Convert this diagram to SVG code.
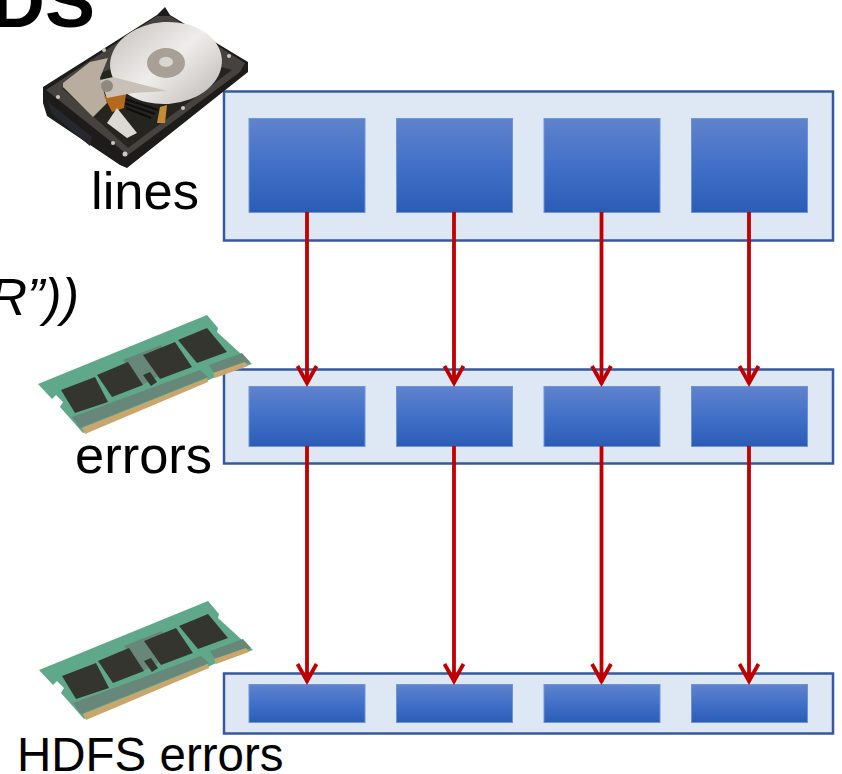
<svg xmlns="http://www.w3.org/2000/svg" width="842" height="774" viewBox="0 0 842 774">
<style>
text{font-family:"Liberation Sans",Arial,sans-serif;fill:#000}
.lbl{font-size:52.500px}
.outer{fill:#dee8f4;stroke:#35599c;stroke-width:2.5}
.inner{fill:url(#blue);stroke:#6f94d6;stroke-width:1}
.conn{stroke:#c00000;stroke-width:3.800;fill:none}
.pcb{fill:#5fa98a}
.chip{fill:#353530}
.gold{fill:#c9a76c}
.trace{fill:#66877a}
.screw{fill:#c9c9c7}
</style>
<defs>
<linearGradient id="blue" x1="0" y1="0" x2="0" y2="1"><stop offset="0" stop-color="#6083cc"/><stop offset=".5" stop-color="#4270c8"/><stop offset="1" stop-color="#2b5cb5"/></linearGradient>
<linearGradient id="platter" x1="0" y1="0" x2="1" y2="1"><stop offset="0" stop-color="#c4c0bc"/><stop offset=".5" stop-color="#efedeb"/><stop offset="1" stop-color="#bcb7b3"/></linearGradient>
<g id="ram">
<polygon class="pcb" points="0,69 169,0 180,13 179,17 214,49 175,63 169,66 45,118 22,92 25,87 18,80 14,84"/>
<polygon class="trace" points="34,102 162,55 170,62 42,113"/>
<polygon class="trace" points="171,50 204,38 212,47 176,58"/>
<polygon class="trace" points="85,45 123,30 137,53 104,70"/>
<polygon class="gold" points="44,113 169,63 170,67 47,119"/>
<polygon class="gold" points="175,58 207,47 210,51 177,63"/>
<polygon class="chip" points="23,75 57,62 70,87 37,98"/>
<polygon class="chip" points="59,60 90,47 105,70 74,82"/>
<polygon class="chip" points="105,40 137,27 154,52 122,64"/>
<polygon class="chip" points="140,25 169,13 189,37 159,48"/>
<polygon class="chip" points="105,60 112,57 119,67 113,71"/>
</g>
</defs>
<g id="title-fragment"><text x="95" y="27" font-size="75" font-weight="bold" text-anchor="end">DS</text></g>
<g id="code-fragment"><text x="79" y="315" font-size="52" font-style="italic" text-anchor="end">R”))</text></g>
<g id="lines">
<rect class="outer" x="224" y="91.500" width="609" height="149"/>
<rect class="inner" x="249" y="118.500" width="116" height="94"/>
<rect class="inner" x="396.500" y="118.500" width="116" height="94"/>
<rect class="inner" x="544" y="118.500" width="116" height="94"/>
<rect class="inner" x="691.500" y="118.500" width="116" height="94"/>
<text class="lbl" x="91" y="209">lines</text>
</g>
<g id="errors">
<rect class="outer" x="224" y="369.500" width="609" height="94"/>
<rect class="inner" x="249" y="386.500" width="116" height="60"/>
<rect class="inner" x="396.500" y="386.500" width="116" height="60"/>
<rect class="inner" x="544" y="386.500" width="116" height="60"/>
<rect class="inner" x="691.500" y="386.500" width="116" height="60"/>
<text class="lbl" x="75" y="473">errors</text>
</g>
<g id="hdfs-errors">
<rect class="outer" x="224" y="673.500" width="609" height="60"/>
<rect class="inner" x="249" y="684.500" width="116" height="38"/>
<rect class="inner" x="396.500" y="684.500" width="116" height="38"/>
<rect class="inner" x="544" y="684.500" width="116" height="38"/>
<rect class="inner" x="691.500" y="684.500" width="116" height="38"/>
<text x="17" y="771" font-size="47.500">HDFS errors</text>
</g>
<g id="connectors" class="conn">
<path d="M307 212V384M454 212V384M601.500 212V384M749 212V384"/>
<path d="M307 446V682M454 446V682M601.500 446V682M749 446V682"/>
<path d="M297.500 366L307 383L316.500 366M444.500 366L454 383L463.500 366M592 366L601.500 383L611 366M739.500 366L749 383L758.500 366"/>
<path d="M297.500 664L307 681L316.500 664M444.500 664L454 681L463.500 664M592 664L601.500 681L611 664M739.500 664L749 681L758.500 664"/>
</g>
<g id="hard-drive">
<polygon fill="#1e1c1b" points="165,7 170,15 248,62 248,72 127,168 120,165 47,116 43,103 43,87 157,15"/>
<polygon fill="#45423f" points="157,16 170,16 245,63 240,72 128,155 46,90"/>
<polygon fill="#25282c" points="48,102 92,137 90,146 52,114"/>
<polygon fill="#26241f" points="62,88 160,50 232,70 128,148"/>
<ellipse cx="166" cy="63" rx="56" ry="41" transform="rotate(-4 166 63)" fill="url(#platter)"/>
<ellipse cx="166" cy="63" rx="19" ry="15" fill="#a89f96"/>
<ellipse cx="166" cy="62" rx="7" ry="5" fill="#d9d5d0"/>
<polygon fill="#b9ada0" points="63,83 90,62 108,58 100,78 107,103 93,117 63,87"/>
<path d="M122 98L158 110M124 103L155 114M126 108L151 118" stroke="#0e0e0e" stroke-width="2" fill="none"/>
<polygon fill="#b36a1e" points="104,96 126,94 124,108 112,112"/>
<polygon fill="#c9c1b8" points="100,80 113,77 167,91 133,93 107,98"/>
<circle cx="107" cy="86" r="6" fill="#8e8880"/>
<polygon fill="#dcd8d3" points="107,123 117,108 137,133 127,138"/>
<polygon fill="#c78c33" points="157,123 160,107 167,105 165,123"/>
<circle class="screw" cx="104" cy="50" r="2"/><circle class="screw" cx="229" cy="56" r="2"/><circle class="screw" cx="183" cy="108" r="2"/><circle class="screw" cx="58" cy="97" r="2"/><circle class="screw" cx="113" cy="143" r="2"/><circle class="screw" cx="125" cy="154" r="2.500"/>
</g>
<use id="ram-errors" href="#ram" x="38" y="315"/>
<use id="ram-hdfs" href="#ram" x="39" y="601"/>
</svg>
